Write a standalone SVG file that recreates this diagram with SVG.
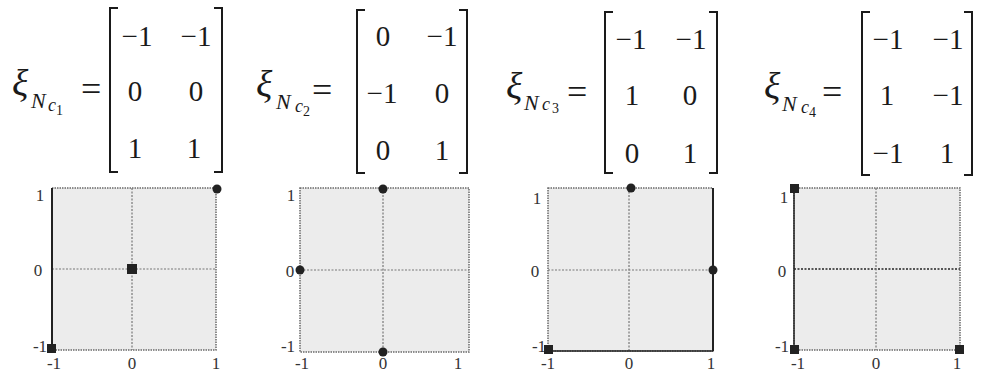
<svg xmlns="http://www.w3.org/2000/svg" width="981" height="375" viewBox="0 0 981 375">
<style>
.m{font-family:"Liberation Serif","DejaVu Serif",serif;font-size:29px;fill:#1a1a1a}
.eq{font-family:"Liberation Serif","DejaVu Serif",serif;font-size:36px;fill:#1a1a1a}
.xi{font-family:"Liberation Serif","DejaVu Serif",serif;font-style:italic;font-size:38px;fill:#1a1a1a}
.sN{font-family:"Liberation Serif","DejaVu Serif",serif;font-style:italic;font-size:22px;fill:#1a1a1a}
.sc{font-family:"Liberation Serif","DejaVu Serif",serif;font-style:italic;font-size:18px;fill:#1a1a1a}
.sd{font-family:"Liberation Serif","DejaVu Serif",serif;font-size:14px;fill:#1a1a1a}
.br{fill:none;stroke:#1a1a1a;stroke-width:2}
.bg{fill:#ececec;stroke:#6a6a6a;stroke-width:1.5;stroke-dasharray:1.5 1}
.grid{stroke:#777;stroke-width:1.2;stroke-dasharray:2 1.5}
.ax{stroke:#222;stroke-width:2}
.t{font-family:"Liberation Serif","DejaVu Serif",serif;font-size:17px;fill:#333;text-anchor:middle}
.dot{fill:#222}
</style>

<g id="matrix1">
<text class="xi" x="12" y="96">ξ</text>
<text class="sN" x="31" y="108">N</text>
<text class="sc" x="48" y="111">c</text>
<text class="sd" x="56" y="115">1</text>
<text class="eq" x="81" y="101">=</text>
<path class="br" d="M118,8 H110 V172 H118"/>
<path class="br" d="M214,8 H222 V172 H214"/>
<text class="m" x="137" y="46" text-anchor="middle">−1</text>
<text class="m" x="196" y="46" text-anchor="middle">−1</text>
<text class="m" x="135" y="101" text-anchor="middle">0</text>
<text class="m" x="196" y="101" text-anchor="middle">0</text>
<text class="m" x="135" y="158" text-anchor="middle">1</text>
<text class="m" x="194" y="158" text-anchor="middle">1</text>
</g>

<g id="matrix2">
<text class="xi" x="256" y="97">ξ</text>
<text class="sN" x="276" y="109">N</text>
<text class="sc" x="295" y="112">c</text>
<text class="sd" x="303" y="116">2</text>
<text class="eq" x="312" y="102">=</text>
<path class="br" d="M365,10 H357 V173 H365"/>
<path class="br" d="M459,10 H467 V173 H459"/>
<text class="m" x="383" y="46" text-anchor="middle">0</text>
<text class="m" x="442" y="46" text-anchor="middle">−1</text>
<text class="m" x="382" y="103" text-anchor="middle">−1</text>
<text class="m" x="442" y="103" text-anchor="middle">0</text>
<text class="m" x="383" y="160" text-anchor="middle">0</text>
<text class="m" x="442" y="160" text-anchor="middle">1</text>
</g>

<g id="matrix3">
<text class="xi" x="506" y="99">ξ</text>
<text class="sN" x="524" y="110">N</text>
<text class="sc" x="542" y="110">c</text>
<text class="sd" x="552" y="113">3</text>
<text class="eq" x="567" y="104">=</text>
<path class="br" d="M613,12 H605 V173 H613"/>
<path class="br" d="M709,12 H717 V173 H709"/>
<text class="m" x="631" y="49" text-anchor="middle">−1</text>
<text class="m" x="691" y="49" text-anchor="middle">−1</text>
<text class="m" x="632" y="105" text-anchor="middle">1</text>
<text class="m" x="690" y="105" text-anchor="middle">0</text>
<text class="m" x="632" y="163" text-anchor="middle">0</text>
<text class="m" x="690" y="163" text-anchor="middle">1</text>
</g>

<g id="matrix4">
<text class="xi" x="764" y="99">ξ</text>
<text class="sN" x="782" y="111">N</text>
<text class="sc" x="801" y="113">c</text>
<text class="sd" x="809" y="117">4</text>
<text class="eq" x="822" y="104">=</text>
<path class="br" d="M870,12 H862 V175 H870"/>
<path class="br" d="M964,12 H972 V175 H964"/>
<text class="m" x="888" y="49" text-anchor="middle">−1</text>
<text class="m" x="948" y="49" text-anchor="middle">−1</text>
<text class="m" x="887" y="105" text-anchor="middle">1</text>
<text class="m" x="948" y="105" text-anchor="middle">−1</text>
<text class="m" x="888" y="163" text-anchor="middle">−1</text>
<text class="m" x="947" y="163" text-anchor="middle">1</text>
</g>

<g id="plot1">
<rect class="bg" x="52" y="188" width="164" height="162"/>
<line class="grid" x1="52" y1="269" x2="216" y2="269"/>
<line class="grid" x1="132" y1="188" x2="132" y2="350"/>
<line class="ax" x1="52" y1="188" x2="52" y2="350"/>
<text class="t" x="40" y="201">1</text>
<text class="t" x="38" y="276">0</text>
<text class="t" x="40" y="352">-1</text>
<text class="t" x="54" y="369">-1</text>
<text class="t" x="132" y="369">0</text>
<text class="t" x="216" y="369">1</text>
<circle class="dot" cx="217" cy="189" r="4.5"/>
<rect class="dot" x="127" y="264" width="10" height="10"/>
<rect class="dot" x="47" y="344" width="9" height="9"/>
</g>

<g id="plot2">
<rect class="bg" x="300" y="188" width="169" height="164"/>
<line class="grid" x1="300" y1="270" x2="469" y2="270"/>
<line class="grid" x1="383" y1="188" x2="383" y2="352"/>
<text class="t" x="291" y="201">1</text>
<text class="t" x="290" y="277">0</text>
<text class="t" x="288" y="352">-1</text>
<text class="t" x="302" y="369">-1</text>
<text class="t" x="383" y="369">0</text>
<text class="t" x="458" y="369">1</text>
<circle class="dot" cx="383" cy="189" r="4.5"/>
<circle class="dot" cx="300" cy="270" r="4.5"/>
<circle class="dot" cx="383" cy="352" r="4.5"/>
</g>

<g id="plot3">
<rect class="bg" x="548" y="188" width="165" height="163"/>
<line class="grid" x1="548" y1="270" x2="713" y2="270"/>
<line class="grid" x1="629" y1="188" x2="629" y2="351"/>
<line class="ax" x1="713" y1="188" x2="713" y2="351"/>
<line class="ax" x1="548" y1="351" x2="713" y2="351" style="stroke-width:1.5"/>
<text class="t" x="537" y="204">1</text>
<text class="t" x="535" y="277">0</text>
<text class="t" x="539" y="352">-1</text>
<text class="t" x="548" y="369">-1</text>
<text class="t" x="629" y="369">0</text>
<text class="t" x="711" y="369">1</text>
<circle class="dot" cx="631" cy="188" r="4.5"/>
<circle class="dot" cx="713" cy="270" r="4.5"/>
<rect class="dot" x="544" y="345" width="9" height="9"/>
</g>

<g id="plot4">
<rect class="bg" x="794" y="188" width="166" height="162"/>
<line class="grid" x1="794" y1="269" x2="960" y2="269" style="stroke:#555;stroke-width:1.8"/>
<line class="grid" x1="876" y1="188" x2="876" y2="350"/>
<line class="ax" x1="794" y1="188" x2="794" y2="350" style="stroke-width:1.5"/>
<text class="t" x="784" y="203">1</text>
<text class="t" x="782" y="277">0</text>
<text class="t" x="782" y="352">-1</text>
<text class="t" x="798" y="369">-1</text>
<text class="t" x="876" y="369">0</text>
<text class="t" x="957" y="369">1</text>
<rect class="dot" x="790" y="184" width="9" height="9"/>
<rect class="dot" x="790" y="345" width="9" height="9"/>
<rect class="dot" x="955" y="345" width="9" height="9"/>
</g>
</svg>
